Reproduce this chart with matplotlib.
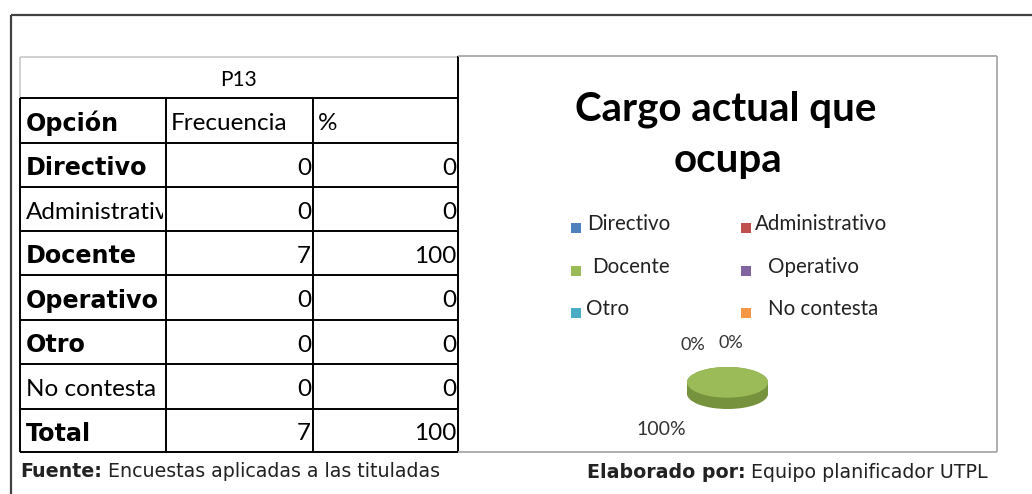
import matplotlib
matplotlib.use("Agg")
import matplotlib.pyplot as plt
from matplotlib.transforms import Bbox
import numpy as np

# ---------------- data ----------------
titulo_tabla = "P13"
encabezados = ["Opción", "Frecuencia", "%"]
categorias = ["Directivo", "Administrativo", "Docente", "Operativo", "Otro", "No contesta"]
frecuencia = [0, 0, 7, 0, 0, 0]
porcentaje = [0, 0, 100, 0, 0, 0]
total_label = "Total"
colores = ["#4F81BD", "#C0504D", "#9BBB59", "#8064A2", "#4BACC6", "#F79646"]
colores_lado = ["#3A6291", "#93403D", "#76923C", "#5F4B7A", "#31859C", "#C0732F"]
titulo_grafico = ["Cargo actual que", "ocupa"]
fuente = ("Fuente:", " Encuestas aplicadas a las tituladas")
elaborado = ("Elaborado por:", " Equipo planificador UTPL")

W, H = 1032, 494
fig = plt.figure(figsize=(W / 100, H / 100), dpi=100)
bg = fig.add_axes([0, 0, 1, 1])
bg.set_xlim(0, W)
bg.set_ylim(H, 0)
bg.axis("off")

def line(x0, y0, x1, y1, color="black", lw=1.4):
    bg.plot([x0, x1], [y0, y1], color=color, lw=lw, solid_capstyle="butt")

# outer frame
line(11, 15, W, 15, color="#404040", lw=1.6)
line(11, 15, 11, H, color="#404040", lw=1.6)

# ---------------- table ----------------
xs = [20, 166, 313, 458]
ys = [57, 98, 143, 187, 231, 275, 320, 364, 409, 452]

REG = 17.5
BOLD = 17.2

# P13 cell (light borders top/left)
line(xs[0], ys[0], xs[3], ys[0], color="#C8C8C8", lw=1.2)
line(xs[0], ys[0], xs[0], ys[1], color="#C8C8C8", lw=1.2)
bg.text((xs[0] + xs[3]) / 2, (ys[0] + ys[1]) / 2 + 2, titulo_tabla, ha="center", va="center",
        fontsize=15, family="Lato")

for y in ys[1:]:
    line(xs[0], y, xs[3], y)
for x in xs:
    line(x, ys[1], x, ys[-1])
line(xs[3], ys[0] - 1, xs[3], ys[1])

fig.canvas.draw()

bold_rows = {"Directivo", "Docente", "Operativo", "Otro"}
# header
hy = (ys[1] + ys[2]) / 2 + 3
bg.text(xs[0] + 6, hy, encabezados[0], ha="left", va="center", fontsize=BOLD,
        family="DejaVu Sans", fontweight="bold")
bg.text(xs[1] + 5, hy, encabezados[1], ha="left", va="center", fontsize=REG, family="Lato")
bg.text(xs[2] + 5, hy, encabezados[2], ha="left", va="center", fontsize=REG, family="Lato")

rows = list(zip(categorias, frecuencia, porcentaje)) + [(total_label, sum(frecuencia), sum(porcentaje))]
for i, (cat, f, p) in enumerate(rows):
    y0, y1 = ys[i + 2], ys[i + 3]
    yc = (y0 + y1) / 2 + 3
    if cat in bold_rows or cat == total_label:
        t = bg.text(xs[0] + 6, yc, cat, ha="left", va="center", fontsize=BOLD,
                    family="DejaVu Sans", fontweight="bold")
    else:
        t = bg.text(xs[0] + 6, yc, cat, ha="left", va="center", fontsize=REG, family="Lato")
    # clip to cell
    p0 = bg.transData.transform((xs[0], y1))
    p1 = bg.transData.transform((xs[1] - 3, y0))
    t.set_clip_box(Bbox([p0, p1]))
    t.set_clip_on(True)
    bg.text(xs[2] - 2, yc, f"{f}", ha="right", va="center", fontsize=REG, family="Lato")
    bg.text(xs[3] - 2, yc, f"{p}", ha="right", va="center", fontsize=REG, family="Lato")

# footer left
FS = 13.7
tf = bg.text(20, 471, fuente[0], ha="left", va="center", fontsize=FS,
             family="DejaVu Sans", fontweight="bold", color="#222222")
fig.canvas.draw()
bb = tf.get_window_extent()
x_end = bg.transData.inverted().transform((bb.x1, bb.y0))[0]
bg.text(x_end, 471, fuente[1], ha="left", va="center", fontsize=FS,
        family="DejaVu Sans", color="#222222")

# ---------------- chart box ----------------
bx0, by0, bx1, by1 = 458, 56, 997, 452
line(bx0, by0, bx1, by0, color="#A8A8A8", lw=1.3)
line(bx1, by0, bx1, by1, color="#A8A8A8", lw=1.3)
line(bx0, by1, bx1, by1, color="#A8A8A8", lw=1.3)

bg.text(726, 120, titulo_grafico[0], ha="center", va="baseline", fontsize=29,
        family="Lato", fontweight="bold")
bg.text(728, 172, titulo_grafico[1], ha="center", va="baseline", fontsize=29,
        family="Lato", fontweight="bold")

# legend (3 rows x 2 cols)
leg_sq_x = [571, 741]
leg_tx_x = [[587, 755], [592, 768], [586, 768]]
leg_y = [224, 267, 309]
for k, (cat, col) in enumerate(zip(categorias, colores)):
    r, c = k // 2, k % 2
    sq_y = leg_y[r] + 4
    bg.add_patch(plt.Rectangle((leg_sq_x[c], sq_y - 5), 10, 10, color=col, lw=0))
    bg.text(leg_tx_x[r][c], leg_y[r], cat, ha="left", va="center", fontsize=14.8,
            family="Lato", color="#222222")

# ---------------- pie (3D-looking) ----------------
px0, px1, py0, py1 = 687, 768, 367, 409
pax = fig.add_axes([px0 / W, 1 - py1 / H, (px1 - px0) / W, (py1 - py0) / H])
depth = 0.74
for off in np.linspace(-depth, 0, 12):
    pax.pie(frecuencia, colors=colores_lado, startangle=90, counterclock=False,
            center=(0, off), radius=1, wedgeprops=dict(linewidth=0))
pax.pie(frecuencia, colors=colores, startangle=90, counterclock=False,
        center=(0, 0), radius=1, wedgeprops=dict(linewidth=0))
pax.set_aspect("auto")
pax.set_xlim(-1, 1)
pax.set_ylim(-1 - depth, 1)
pax.axis("off")

tot = sum(frecuencia)
pct = [f"{round(100 * v / tot)}%" for v in frecuencia]
bg.text(693, 345, pct[0], ha="center", va="center", fontsize=13, family="Lato", color="#333333")
bg.text(731, 343, pct[1], ha="center", va="center", fontsize=13, family="Lato", color="#333333")
bg.text(661, 429, pct[2], ha="center", va="center", fontsize=14, family="Lato", color="#333333")

# footer right
te = bg.text(988, 472, elaborado[1], ha="right", va="center", fontsize=FS,
             family="DejaVu Sans", color="#222222")
fig.canvas.draw()
bb = te.get_window_extent()
x_start = bg.transData.inverted().transform((bb.x0, bb.y0))[0]
bg.text(x_start, 472, elaborado[0], ha="right", va="center", fontsize=FS,
        family="DejaVu Sans", fontweight="bold", color="#222222")

fig.savefig("out.png", dpi=100)
